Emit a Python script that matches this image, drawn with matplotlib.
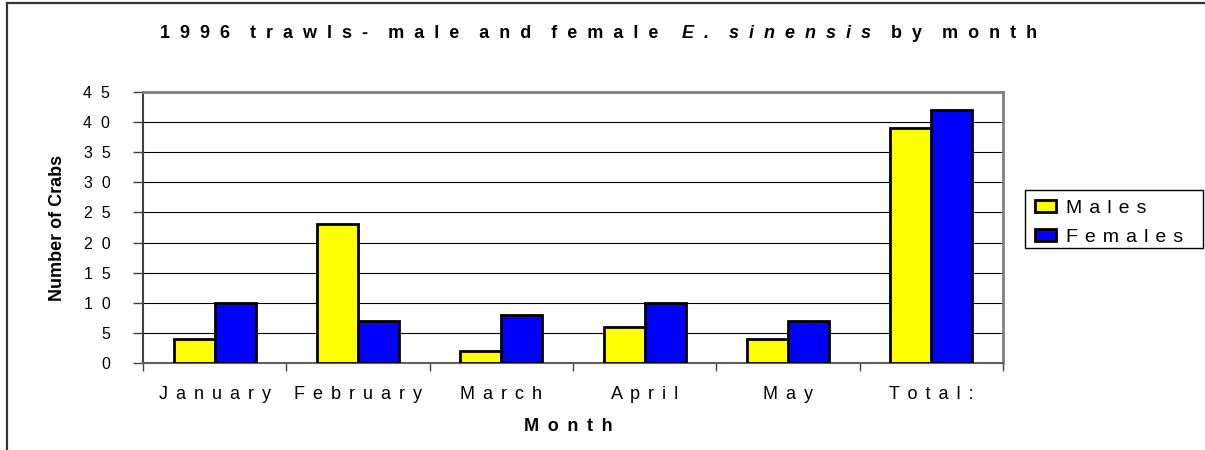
import matplotlib
matplotlib.use("Agg")
import matplotlib.pyplot as plt
import numpy as np
from matplotlib.patches import Patch, Rectangle
from matplotlib.lines import Line2D

months = ["January", "February", "March", "April", "May", "Total:"]
males = [4, 23, 2, 6, 4, 39]
females = [10, 7, 8, 10, 7, 42]
yticks = [0, 5, 10, 15, 20, 25, 30, 35, 40, 45]

THIN = "\u2009"
HAIR = "\u200a"


def spaced(s, gap=" ", wgap="   "):
    # Excel-style wide letter spacing
    return wgap.join(gap.join(w) for w in s.split(" "))


plt.rcParams["font.family"] = ["Liberation Sans", "DejaVu Sans"]

W, H = 1205, 450
fig = plt.figure(figsize=(W / 100, H / 100), dpi=100, facecolor="white")

# plot area in pixels: x 143..1003, y 92..363
ax = fig.add_axes([143 / W, 1 - 363 / H, (1003 - 143) / W, (363 - 92) / H])

x = np.arange(len(months))
bw = 0.286
ax.bar(x - bw / 2, males, bw, color="#FFFF00", edgecolor="black", linewidth=2.0, zorder=3)
ax.bar(x + bw / 2, females, bw, color="#0000FF", edgecolor="black", linewidth=2.0, zorder=3)

ax.set_xlim(-0.5, len(months) - 0.5)
ax.set_ylim(0, 45)

ax.set_yticks(yticks)
ax.set_yticklabels([spaced(str(v), "  ") for v in yticks], fontsize=11.5)
ax.tick_params(axis="y", length=7, width=1, color="#404040", pad=16.5)
ax.yaxis.grid(True, color="black", linewidth=0.8, zorder=0)

ax.set_xticks(x)
ax.set_xticklabels([spaced(m, " " + HAIR + HAIR) for m in months], fontsize=13)
ax.tick_params(axis="x", which="major", length=0, pad=16.5)
ax.set_xticks(np.arange(-0.5, len(months)), minor=True)
ax.tick_params(axis="x", which="minor", length=6, width=1, color="#404040")

for side in ["top", "right"]:
    ax.spines[side].set_color("#808080")
    ax.spines[side].set_linewidth(2)
ax.spines["left"].set_color("#404040")
ax.spines["left"].set_linewidth(1.5)
ax.spines["bottom"].set_color("#606060")
ax.spines["bottom"].set_linewidth(1.5)

ax.set_ylabel("Number of Crabs", fontsize=13, fontweight="bold")
ax.yaxis.set_label_coords(-(143 - 66) / (1003 - 143), 0.5)
ax.set_xlabel(spaced("Month", " " + THIN), fontsize=13, fontweight="bold")
ax.xaxis.set_label_coords((568 - 143) / (1003 - 143), -(418 - 363) / (363 - 92))

# legend, with a hand drawn frame so it spans the same box as the original
handles = [
    Patch(facecolor="#FFFF00", edgecolor="black", linewidth=2, label=spaced("Males", " " + HAIR)),
    Patch(facecolor="#0000FF", edgecolor="black", linewidth=2, label=spaced("Females", " " + HAIR)),
]
fig.legend(handles=handles, loc="upper left", bbox_to_anchor=(1035 / W, 1 - 200 / H),
           fontsize=14, frameon=False, handlelength=1.08, handleheight=0.57,
           handletextpad=0.49, borderpad=0, labelspacing=0.6, borderaxespad=0)
fig.add_artist(Rectangle((1025 / W, 1 - 248 / H), (1203 - 1025) / W, (248 - 190) / H,
                         transform=fig.transFigure, fill=False, edgecolor="black", linewidth=1))

# title in pieces: bold + bold italic + bold, gaps in pixels
parts = [
    ("1996 trawls- male and female", "normal", 0),
    ("E. sinensis", "italic", 24),
    ("by month", "normal", 20),
]
fig.canvas.draw()
r = fig.canvas.get_renderer()
xpos = 160
for s, st, gap in parts:
    xpos += gap
    t = fig.text(xpos / W, 1 - 38 / H, spaced(s, "  ", "    "), fontsize=13,
                 fontweight="bold", style=st, ha="left", va="baseline")
    xpos += t.get_window_extent(r).width

# outer frame (left and top edges only)
fig.add_artist(Line2D([6.5 / W, 6.5 / W], [0, 1 - 3 / H], color="#333333", linewidth=1.6))
fig.add_artist(Line2D([6.5 / W, 1], [1 - 3 / H, 1 - 3 / H], color="#333333", linewidth=1.6))

fig.savefig("out.png", dpi=100, facecolor="white")
